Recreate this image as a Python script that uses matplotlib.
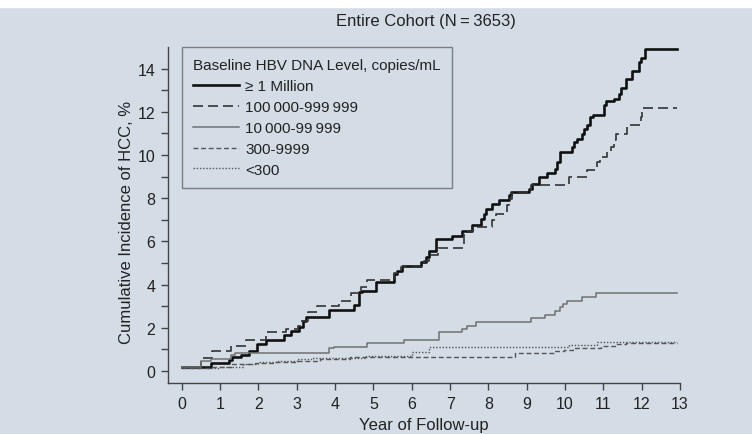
import matplotlib
matplotlib.use('Agg')
import matplotlib.pyplot as plt
from matplotlib.patches import Rectangle

plt.rcParams['font.family'] = ['Liberation Sans', 'DejaVu Sans']

# data (years, cumulative incidence %)
t_1m = [0, 0.76, 1.23, 1.32, 1.54, 1.76, 1.97, 2.2, 2.66, 2.86, 3.05, 3.15, 3.23, 3.83, 4.49, 4.62, 4.71,
        5.06, 5.53, 5.62, 5.75, 6.23, 6.36, 6.45, 6.62, 7.06, 7.32, 7.58, 7.8, 7.88, 7.93, 8.1, 8.27, 8.53,
        8.58, 9.06, 9.14, 9.32, 9.54, 9.73, 9.8, 9.88, 10.19, 10.23, 10.32, 10.45, 10.49, 10.58, 10.66,
        10.73, 11.01, 11.06, 11.27, 11.4, 11.45, 11.58, 11.75, 11.92, 11.99, 12.08, 12.93]
y_1m = [0.2, 0.35, 0.5, 0.63, 0.75, 0.9, 1.25, 1.45, 1.68, 1.85, 2.04, 2.33, 2.5, 2.8, 3.03, 3.65, 3.72,
        4.1, 4.5, 4.65, 4.88, 5.04, 5.27, 5.55, 6.12, 6.27, 6.5, 6.74, 7.05, 7.28, 7.51, 7.74, 7.9, 8.13,
        8.28, 8.44, 8.67, 8.98, 9.18, 9.37, 9.67, 10.14, 10.37, 10.6, 10.76, 10.99, 11.22, 11.37, 11.76,
        11.87, 12.3, 12.49, 12.61, 12.84, 13.1, 13.54, 13.88, 14.3, 14.5, 14.9, 14.9]

t_100k = [0, 0.5, 0.8, 1.28, 1.67, 2.19, 2.71, 3.02, 3.1, 3.28, 3.54, 4.1, 4.41, 4.67, 4.84, 5.53, 5.71,
          6.31, 6.45, 6.68, 7.36, 7.58, 8.1, 8.19, 8.49, 8.55, 8.62, 9.1, 10.1, 10.58, 10.84, 10.9, 11.1,
          11.19, 11.27, 11.32, 11.62, 11.97, 12.0, 12.93]
y_100k = [0.2, 0.59, 0.94, 1.17, 1.45, 1.79, 1.95, 2.1, 2.33, 2.72, 3.0, 3.26, 3.62, 3.88, 4.19, 4.54, 4.81,
          5.11, 5.38, 5.7, 6.43, 6.66, 6.97, 7.28, 7.66, 7.97, 8.24, 8.59, 8.98, 9.29, 9.67, 9.9, 10.14,
          10.37, 10.68, 10.99, 11.37, 11.76, 12.19, 12.19]

t_10k = [0, 0.5, 0.76, 1.28, 1.4, 3.84, 3.97, 4.84, 5.8, 6.71, 7.32, 7.43, 7.67, 9.1, 9.47, 9.73, 9.88,
         9.95, 10.04, 10.45, 10.8, 12.93]
y_10k = [0.2, 0.45, 0.55, 0.72, 0.82, 1.05, 1.13, 1.28, 1.45, 1.79, 1.95, 2.1, 2.26, 2.44, 2.61, 2.77, 2.95,
         3.1, 3.26, 3.44, 3.6, 3.6]

t_300 = [0, 0.8, 1.3, 1.9, 2.4, 3.0, 3.6, 4.4, 8.7, 9.7, 9.97, 10.2, 10.93, 11.32, 11.58, 12.93]
y_300 = [0.12, 0.2, 0.3, 0.36, 0.42, 0.48, 0.55, 0.63, 0.83, 0.94, 0.99, 1.05, 1.17, 1.25, 1.3, 1.3]

t_lt300 = [0, 1.0, 1.6, 2.0, 2.5, 3.0, 3.4, 4.8, 6.0, 6.45, 10.1, 10.84, 12.93]
y_lt300 = [0.15, 0.2, 0.3, 0.4, 0.45, 0.55, 0.62, 0.71, 0.87, 1.1, 1.22, 1.33, 1.33]

labels = ['\u2265 1 Million', '100\u2009000-999\u2009999', '10\u2009000-99\u2009999', '300-9999', '<300']

bg = '#d4dce5'
fig = plt.figure(figsize=(7.52, 4.35), dpi=100, facecolor=bg)
fig.patches.append(Rectangle((0, 0.982), 1, 0.02, transform=fig.transFigure, color='white', zorder=0))
ax = fig.add_axes([0.2234, 0.1172, 0.6809, 0.7725])
ax.set_facecolor(bg)

ax.step(t_1m, y_1m, where='post', color='#111111', lw=1.9, label=labels[0])
ax.step(t_100k, y_100k, where='post', color='#333333', lw=1.2, dashes=(6, 3), label=labels[1])
ax.step(t_10k, y_10k, where='post', color='#707070', lw=1.1, label=labels[2])
ax.step(t_300, y_300, where='post', color='#555555', lw=1.0, dashes=(3.5, 2), label=labels[3])
ax.step(t_lt300, y_lt300, where='post', color='#555555', lw=1.0, dashes=(1, 1.3), label=labels[4])

ax.set_xlim(-0.36, 13)
ax.set_ylim(-0.56, 15)
ax.set_xticks(range(0, 14))
ax.set_yticks(range(0, 15, 2))
ax.set_yticks(range(1, 15, 2), minor=True)
for s in ['top', 'right']:
    ax.spines[s].set_visible(False)
for s in ['left', 'bottom']:
    ax.spines[s].set_color('#444444')
    ax.spines[s].set_linewidth(1.0)
ax.tick_params(which='both', direction='out', length=5, width=1, color='#444444',
               labelsize=11.5, labelcolor='#222222', pad=4)

ax.set_xlabel('Year of Follow-up', fontsize=12, color='#222222')
ax.set_ylabel('Cumulative Incidence of HCC, %', fontsize=12, color='#222222')
ax.xaxis.set_label_coords(0.5, -0.1)
ax.yaxis.set_label_coords(-0.066, 0.48)

fig.text(0.566, 0.95, 'Entire Cohort (N\u2009=\u20093653)', ha='center', va='center',
         fontsize=12, color='#222222')

leg = ax.legend(title='Baseline HBV DNA Level, copies/mL', loc='upper left',
                bbox_to_anchor=(0.027, 1.0), fontsize=11, title_fontsize=11,
                frameon=True, fancybox=False, edgecolor='#666666', facecolor=bg,
                handlelength=3.0, labelspacing=0.45, handletextpad=0.4,
                borderpad=0.75, alignment='left', borderaxespad=0)
leg.get_frame().set_linewidth(1.0)
for txt in leg.get_texts():
    txt.set_color('#222222')
leg.get_title().set_color('#222222')

fig.savefig('out.png', dpi=100, facecolor=bg)
